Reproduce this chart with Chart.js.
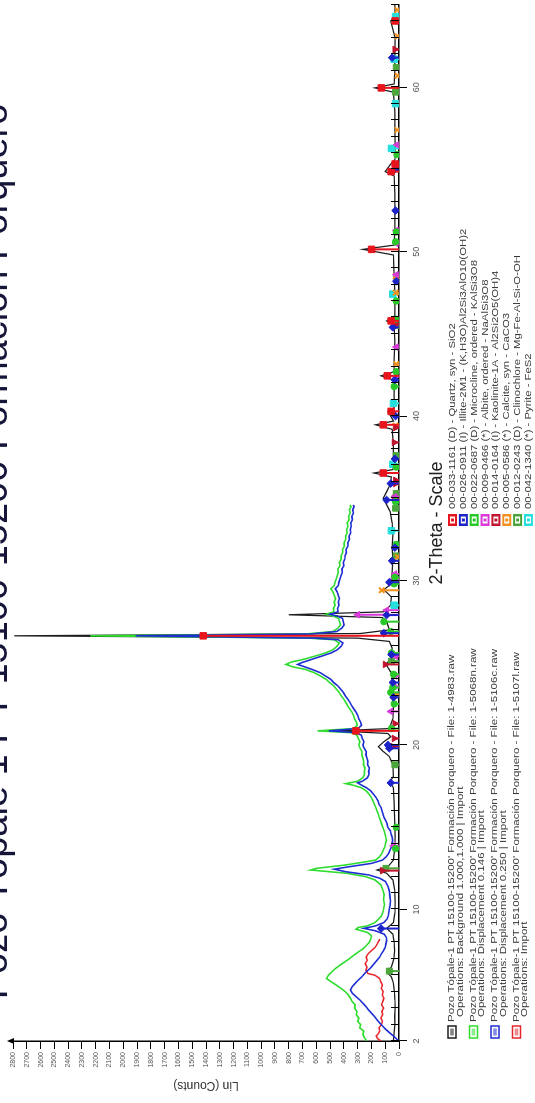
<!DOCTYPE html>
<html>
<head>
<meta charset="utf-8">
<script src="https://cdn.jsdelivr.net/npm/chart.js@4.4.1/dist/chart.umd.min.js"></script>
<style>
  html, body { margin: 0; padding: 0; background: #fff; width: 535px; height: 1103px; overflow: hidden; }
  /* the diffractogram is laid out landscape and turned a quarter turn counter-clockwise */
  #frame { position: absolute; left: 0; top: 0; width: 1103px; height: 535px;
           transform-origin: 0 0; transform: translate(0, 1103px) rotate(-90deg); background: #fff; }
</style>
</head>
<body>
<div id="frame"><canvas id="xrd"></canvas></div>
<script>
// ---------- data ----------
const chartTitle = 'Pozo Tópale 1 PT 15100-15200 Formación Porquero';
const thetaTicks = [2, 10, 20, 30, 40, 50, 60];
const countTicks = [0,100,200,300,400,500,600,700,800,900,1000,1100,1200,1300,1400,1500,1600,1700,1800,1900,2000,2100,2200,2300,2400,2500,2600,2700,2800];
const thetaTitle = '2-Theta - Scale';
const countTitle = 'Lin (Counts)';

// measured scans: [2-theta, counts]
const scanBlack = [
  [2.0,40],[2.5,35],[3.0,30],[3.5,32],[4.0,28],[4.5,30],[5.0,34],[5.5,40],[5.9,55],[6.2,90],[6.5,55],[7.0,38],
  [7.5,32],[8.0,35],[8.5,45],[8.85,90],[9.2,40],[9.8,30],[10.5,28],[11.2,32],[11.8,45],[12.2,90],[12.4,160],
  [12.6,80],[13.0,40],[13.8,30],[14.5,28],[15.5,32],[16.5,35],[17.4,40],[17.75,65],[18.1,40],[18.8,45],[19.3,70],
  [19.65,120],[19.9,150],[20.2,110],[20.5,60],[20.7,80],[20.86,450],[21.0,70],[21.6,45],[22.2,40],[23.0,45],
  [23.6,50],[24.3,50],[24.9,95],[25.3,55],[25.9,50],[26.3,70],[26.5,300],[26.64,2790],[26.78,280],[27.0,70],
  [27.5,90],[27.75,120],[27.92,800],[28.1,110],[28.5,60],[29.0,55],[29.45,110],[29.8,55],[30.5,50],[31.3,45],
  [32.0,50],[32.8,45],[33.5,50],[34.2,65],[34.7,95],[35.0,115],[35.4,90],[35.9,60],[36.3,55],[36.54,180],
  [36.75,45],[37.5,40],[38.3,40],[39.2,50],[39.47,170],[39.7,40],[40.29,80],[40.5,35],[41.5,35],[42.2,40],
  [42.45,130],[42.7,35],[43.5,35],[44.5,30],[45.5,35],[45.79,90],[46.1,30],[47.5,30],[48.5,35],[49.8,40],
  [50.14,262],[50.4,35],[51.5,30],[52.5,30],[53.5,30],[54.6,35],[54.87,100],[55.33,60],[55.6,30],[56.5,28],
  [57.5,30],[58.5,30],[59.7,40],[59.96,175],[60.2,35],[61.0,30],[62.0,30],[63.0,28],[64.03,60],[64.3,28],[65.0,30]
];
const scanGreen = [
  [2.0,235],[2.2,250],[2.4,262],[2.6,255],[2.8,285],[3.0,278],[3.2,300],[3.4,292],[3.6,310],[3.8,305],[4.0,322],
  [4.2,318],[4.4,340],[4.6,352],[4.8,368],[5.0,390],[5.2,420],[5.4,455],[5.6,492],[5.8,525],[6.0,512],[6.2,488],
  [6.4,462],[6.6,430],[6.8,395],[7.0,360],[7.2,330],[7.4,298],[7.6,262],[7.8,238],[8.0,215],[8.2,205],[8.4,200],
  [8.6,228],[8.8,312],[8.9,296],[9.0,230],[9.2,175],[9.4,150],[9.6,128],[9.8,118],[10.0,112],[10.3,105],
  [10.6,112],[10.9,108],[11.2,118],[11.5,132],[11.8,175],[12.0,245],[12.2,380],[12.4,640],[12.5,600],[12.7,390],
  [12.9,240],[13.0,170],[13.2,142],[13.4,124],[13.6,114],[13.8,104],[14.0,98],[14.2,92],[14.4,96],[14.6,102],
  [14.8,108],[15.0,118],[15.2,126],[15.4,134],[15.6,144],[15.8,150],[16.0,160],[16.2,168],[16.4,180],[16.6,188],
  [16.8,200],[17.0,216],[17.2,236],[17.4,272],[17.55,330],[17.65,385],[17.8,300],[18.0,264],[18.2,250],[18.4,252],
  [18.6,246],[18.8,258],[19.0,256],[19.2,262],[19.4,270],[19.6,268],[19.8,282],[20.0,292],[20.2,284],[20.4,296],
  [20.6,304],[20.75,350],[20.86,590],[21.0,332],[21.2,302],[21.4,310],[21.6,322],[21.8,330],[22.0,342],[22.2,358],
  [22.4,374],[22.6,386],[22.8,402],[23.0,420],[23.2,434],[23.4,454],[23.6,474],[23.8,504],[24.0,530],[24.2,570],
  [24.4,616],[24.6,680],[24.75,770],[24.9,820],[25.05,780],[25.2,696],[25.4,612],[25.6,532],[25.8,478],[26.0,450],
  [26.2,432],[26.4,470],[26.5,660],[26.64,2240],[26.75,680],[26.9,480],[27.1,444],[27.3,424],[27.5,432],[27.7,438],
  [27.85,480],[27.95,530],[28.1,472],[28.3,476],[28.5,464],[28.7,470],[28.9,460],[29.1,470],[29.3,478],[29.5,494],
  [29.7,470],[29.9,464],[30.1,456],[30.3,448],[30.5,440],[30.7,444],[30.9,428],[31.1,432],[31.3,420],[31.5,420],
  [31.7,408],[31.9,410],[32.1,396],[32.3,398],[32.5,386],[32.7,388],[32.9,376],[33.1,380],[33.3,370],[33.5,376],
  [33.7,362],[33.9,366],[34.1,354],[34.3,360],[34.5,348],[34.6,356]
];
const scanBlue = [
  [2.0,0],[2.1,15],[2.3,40],[2.5,68],[2.7,95],[2.9,118],[3.1,140],[3.3,160],[3.5,178],[3.7,200],[3.9,222],
  [4.1,240],[4.3,262],[4.5,285],[4.7,312],[4.9,338],[5.1,352],[5.3,340],[5.5,318],[5.7,296],[5.9,270],[6.1,250],
  [6.3,225],[6.5,200],[6.7,180],[6.9,160],[7.1,140],[7.3,128],[7.5,112],[7.7,100],[7.9,95],[8.1,90],[8.3,92],
  [8.5,108],[8.7,170],[8.85,255],[9.0,170],[9.2,110],[9.4,88],[9.6,78],[9.9,72],[10.2,66],[10.5,62],[10.8,66],
  [11.1,70],[11.4,80],[11.7,98],[11.9,140],[12.1,220],[12.3,390],[12.45,470],[12.6,360],[12.8,200],[13.0,120],
  [13.2,94],[13.4,76],[13.6,66],[13.8,54],[14.0,50],[14.2,46],[14.4,50],[14.6,58],[14.8,64],[15.0,82],[15.2,86],
  [15.4,96],[15.6,108],[15.8,116],[16.0,124],[16.2,130],[16.4,146],[16.6,152],[16.8,166],[17.0,184],[17.2,204],
  [17.4,236],[17.6,280],[17.7,300],[17.8,266],[18.0,230],[18.2,218],[18.4,220],[18.6,214],[18.8,228],[19.0,226],
  [19.2,232],[19.4,240],[19.6,238],[19.8,252],[20.0,262],[20.2,254],[20.4,266],[20.6,274],[20.75,310],[20.86,510],
  [21.0,298],[21.2,272],[21.4,280],[21.6,292],[21.8,300],[22.0,312],[22.2,328],[22.4,344],[22.6,356],[22.8,372],
  [23.0,390],[23.2,404],[23.4,424],[23.6,444],[23.8,474],[24.0,496],[24.2,534],[24.4,572],[24.6,632],[24.8,700],
  [24.9,735],[25.0,708],[25.2,636],[25.4,562],[25.6,492],[25.8,446],[26.0,420],[26.2,406],[26.4,440],[26.5,620],
  [26.64,1910],[26.75,640],[26.9,452],[27.1,416],[27.3,398],[27.5,404],[27.7,410],[27.85,450],[27.95,500],
  [28.1,442],[28.3,446],[28.5,436],[28.7,440],[28.9,432],[29.1,440],[29.3,448],[29.5,462],[29.7,440],[29.9,436],
  [30.1,428],[30.3,420],[30.5,412],[30.7,414],[30.9,400],[31.1,404],[31.3,394],[31.5,392],[31.7,382],[31.9,384],
  [32.1,370],[32.3,372],[32.5,360],[32.7,362],[32.9,350],[33.1,354],[33.3,346],[33.5,350],[33.7,338],[33.9,342],
  [34.1,330],[34.3,336],[34.5,326],[34.6,332]
];
const scanRed = [
  [2.0,130],[2.15,155],[2.3,165],[2.45,150],[2.6,140],[2.8,145],[3.0,128],[3.2,120],[3.4,132],[3.6,118],[3.8,124],
  [4.0,112],[4.2,126],[4.4,118],[4.6,110],[4.8,122],[5.0,115],[5.2,128],[5.4,120],[5.6,132],[5.8,140],[6.0,175],
  [6.1,225],[6.3,240],[6.5,232],[6.7,245],[6.9,230],[7.1,238],[7.3,225],[7.5,200],[7.7,172],[7.9,158],[8.1,145],[8.2,140]
];

const sampleFiles = ['1-4983.raw', '1-5068n.raw', '1-5106c.raw', '1-5107l.raw'];
const sampleOps = [
  'Operations: Background 1.000,1.000 | Import',
  'Operations: Displacement 0.146 | Import',
  'Operations: Displacement 0.250 | Import',
  'Operations: Import'
];
const sampleName = "Pozo Tópale-1 PT 15100-15200' Formación Porquero - File: ";

// reference patterns: [2-theta, stick height in counts]
const peaksQuartz = [[20.86,313],[26.64,1420],[36.54,114],[39.47,114],[40.29,57],[42.45,85],[45.79,57],[50.14,199],[54.87,57],[55.33,28],[59.96,128],[64.03,28]];
const peaksIllite = [[8.84,130],[17.7,60],[19.8,70],[20.0,80],[22.9,40],[23.8,45],[25.5,55],[26.8,110],[27.9,90],[29.9,70],[31.2,50],[32.0,30],[34.9,90],[35.9,60],[37.4,30],[40.0,25],[42.2,30],[45.4,45],[48.2,20],[52.5,25],[55.0,30],[61.8,50]];
const peaksMicrocline = [[13.7,25],[15.0,20],[21.0,55],[22.5,35],[23.2,60],[23.5,45],[24.3,40],[25.6,55],[26.9,60],[27.5,110],[29.8,35],[30.2,30],[32.2,20],[34.8,25],[36.9,20],[41.8,35],[42.7,20],[45.9,25],[47.0,20],[50.6,25],[51.2,20],[55.9,15]];
const peaksAlbite = [[13.87,40],[22.04,60],[23.56,35],[24.2,30],[25.4,25],[27.92,300],[28.2,90],[30.1,35],[30.4,30],[35.1,30],[42.4,25],[44.2,20],[48.6,20],[50.5,20],[51.3,20],[56.5,15]];
const peaksKaolinite = [[12.36,120],[19.9,45],[20.4,35],[21.3,30],[24.9,100],[35.0,35],[35.9,25],[36.1,25],[38.4,35],[39.3,25],[45.6,20],[55.2,15],[62.3,30]];
const peaksCalcite = [[23.06,20],[29.41,125],[31.44,10],[35.97,20],[39.42,25],[43.16,20],[47.5,25],[48.5,25],[57.4,12],[60.7,10],[63.1,10],[64.7,12]];
const peaksClinochlore = [[6.25,70],[12.5,95],[18.8,30],[25.1,55],[31.5,20],[34.4,25],[35.3,20],[37.6,20],[45.5,20],[59.7,25],[61.2,20]];
const peaksPyrite = [[28.5,35],[33.03,55],[37.07,45],[40.78,40],[47.42,45],[56.28,55],[59.0,25],[61.7,35],[64.3,25]];

const phaseLabels = [
  '00-033-1161 (D) - Quartz, syn - SiO2',
  '00-026-0911 (I) - Illite-2M1 - (K,H3O)Al2Si3AlO10(OH)2',
  '00-022-0687 (D) - Microcline, ordered - KAlSi3O8',
  '00-009-0466 (*) - Albite, ordered - NaAlSi3O8',
  '00-014-0164 (I) - Kaolinite-1A - Al2Si2O5(OH)4',
  '00-005-0586 (*) - Calcite, syn - CaCO3',
  '00-012-0243 (D) - Clinochlore - Mg-Fe-Al-Si-O-OH',
  '00-042-1340 (*) - Pyrite - FeS2'
];

// ---------- styling ----------
const FONT = '"Liberation Sans", Arial, Helvetica, sans-serif';
const scanStyles = [
  { data: scanBlack, color: '#1c1c1c', order: 4, w: 1.25 },
  { data: scanGreen, color: '#2edc2e', order: 2, w: 1.6 },
  { data: scanBlue,  color: '#1e2ed2', order: 1, w: 1.6 },
  { data: scanRed,   color: '#e6262b', order: 3, w: 1.5 }
];
const phaseStyles = [
  { peaks: peaksQuartz,      color: '#e8141c', marker: 'rect',      r: 4.6, rot: 0 },
  { peaks: peaksIllite,      color: '#1b22c8', marker: 'rectRot',   r: 3.8, rot: 0 },
  { peaks: peaksMicrocline,  color: '#28c828', marker: 'circle',    r: 3.2, rot: 0 },
  { peaks: peaksAlbite,      color: '#d83ad8', marker: 'triangle',  r: 3.8, rot: 0 },
  { peaks: peaksKaolinite,   color: '#c0142e', marker: 'triangle',  r: 3.8, rot: 180 },
  { peaks: peaksCalcite,     color: '#f2921e', marker: 'crossRot',  r: 3.8, rot: 0 },
  { peaks: peaksClinochlore, color: '#4aa63a', marker: 'rect',      r: 4.2, rot: 0 },
  { peaks: peaksPyrite,      color: '#26dede', marker: 'rect',      r: 4.6, rot: 0 }
];
// legend sample box colours follow the scan order
const sampleColors = scanStyles.map(s => s.color);

// ---------- datasets ----------
const datasets = [];
scanStyles.forEach(s => {
  datasets.push({
    data: s.data.map(([t, c]) => ({ x: t, y: c })),
    borderColor: s.color, borderWidth: s.w, pointRadius: 0, tension: 0, order: s.order
  });
});
phaseStyles.forEach(p => {
  const pts = [];
  p.peaks.forEach(([t, h]) => {
    pts.push({ x: t, y: 0 }, { x: t, y: h, tip: true }, { x: t, y: null });
  });
  datasets.push({
    data: pts, borderColor: p.color, borderWidth: 2, spanGaps: false, order: 0,
    pointStyle: p.marker, pointRotation: p.rot,
    pointBackgroundColor: p.color, pointBorderColor: p.color, pointBorderWidth: p.marker === 'crossRot' ? 2 : 1,
    pointRadius: c => (c.raw && c.raw.tip ? p.r : 0), pointHoverRadius: 0
  });
});

// ---------- drawing helpers ----------
function wideText(ctx, text, x, y, sx) {
  ctx.save();
  ctx.translate(x, y);
  ctx.scale(sx, 1);
  ctx.fillText(text, 0, 0);
  ctx.restore();
}

const decorations = {
  id: 'decorations',
  afterDraw(chart) {
    const { ctx, chartArea: a, scales } = chart;
    const xs = scales.x;
    ctx.save();

    // inner tick marks at every degree along the 2-theta axis
    ctx.strokeStyle = '#000';
    ctx.lineWidth = 1;
    ctx.beginPath();
    for (let d = Math.ceil(xs.min); d <= xs.max; d++) {
      const px = Math.round(xs.getPixelForValue(d)) + 0.5;
      ctx.moveTo(px, a.bottom);
      ctx.lineTo(px, a.bottom - 8);
    }
    ctx.stroke();

    // arrow head on the counts axis
    const ax = a.left;
    ctx.fillStyle = '#000';
    ctx.beginPath();
    ctx.moveTo(ax, a.top - 6);
    ctx.lineTo(ax - 3, a.top + 1);
    ctx.lineTo(ax + 3, a.top + 1);
    ctx.closePath();
    ctx.fill();

    // chart title (runs off the top edge)
    ctx.fillStyle = '#15163a';
    ctx.font = '38px ' + FONT;
    ctx.textAlign = 'center';
    ctx.textBaseline = 'alphabetic';
    ctx.fillText(chartTitle, chart.width / 2, 7);

    // axis titles
    ctx.fillStyle = '#222';
    ctx.font = '18px ' + FONT;
    ctx.textBaseline = 'middle';
    ctx.fillText(thetaTitle, (a.left + a.right) / 2, 437);

    ctx.save();
    ctx.font = '12px ' + FONT;
    ctx.fillStyle = '#333';
    ctx.translate(18, (a.top + a.bottom) / 2);
    ctx.rotate(-Math.PI / 2);
    ctx.fillText(countTitle, 0, 0);
    ctx.restore();

    // sample legend
    ctx.textAlign = 'left';
    ctx.textBaseline = 'middle';
    ctx.font = '9px ' + FONT;
    const rowY = [452, 473.5, 495, 516.5];
    sampleFiles.forEach((f, i) => {
      const y = rowY[i];
      const c = sampleColors[i];
      ctx.fillStyle = '#fff';
      ctx.fillRect(65, y - 4, 12, 8);
      ctx.strokeStyle = c;
      ctx.lineWidth = 1.5;
      ctx.strokeRect(65, y - 4, 12, 8);
      ctx.fillStyle = c;
      ctx.globalAlpha = 0.55;
      ctx.fillRect(67.5, y - 1.8, 7, 3.6);
      ctx.globalAlpha = 1;
      ctx.fillStyle = '#3a3a3a';
      wideText(ctx, sampleName + f, 81, y, 1.28);
      wideText(ctx, sampleOps[i], 86, y + 8.5, 1.28);
    });

    // reference pattern legend
    phaseLabels.forEach((label, i) => {
      const y = 452.5 + i * 10.85;
      const p = phaseStyles[i];
      ctx.fillStyle = p.color;
      ctx.fillRect(577, y - 4.5, 12, 9);
      ctx.fillStyle = '#fff';
      ctx.fillRect(579.5, y - 2.5, 7, 5);
      ctx.fillStyle = p.color;
      ctx.fillRect(581.5, y - 1.5, 3, 3);
      ctx.fillStyle = '#3a3a3a';
      wideText(ctx, label, 594, y, 1.26);
    });

    ctx.restore();
  }
};

// ---------- chart ----------
new Chart(document.getElementById('xrd'), {
  type: 'line',
  data: { datasets },
  options: {
    responsive: true,
    maintainAspectRatio: false,
    animation: false,
    devicePixelRatio: 1,
    layout: { padding: { left: 12, right: 5, top: 13, bottom: 106 } },
    plugins: { legend: { display: false }, tooltip: { enabled: false }, title: { display: false } },
    elements: { line: { tension: 0 } },
    scales: {
      x: {
        type: 'linear', position: 'bottom', min: 2, max: 65,
        afterBuildTicks: s => { s.ticks = thetaTicks.map(v => ({ value: v })); },
        afterFit: s => { s.height = 30; },
        ticks: { color: '#555', font: { family: FONT, size: 9 }, padding: 4, maxRotation: 0, autoSkip: false,
                 callback: v => String(v) },
        grid: { display: true, drawOnChartArea: false, drawTicks: true, tickLength: 8, color: '#000', lineWidth: 1 },
        border: { display: true, color: '#000', width: 1.5 }
      },
      y: {
        type: 'linear', position: 'left', min: 0, max: 2800,
        afterBuildTicks: s => { s.ticks = countTicks.map(v => ({ value: v })); },
        afterFit: s => { s.width = 50; },
        ticks: { color: '#555', font: { family: FONT, size: 7 }, padding: 3, autoSkip: false,
                 callback: v => String(v) },
        grid: { display: true, drawOnChartArea: false, drawTicks: true, tickLength: 8, color: '#000', lineWidth: 1 },
        border: { display: true, color: '#000', width: 1.5 }
      }
    }
  },
  plugins: [decorations]
});
</script>
</body>
</html>
